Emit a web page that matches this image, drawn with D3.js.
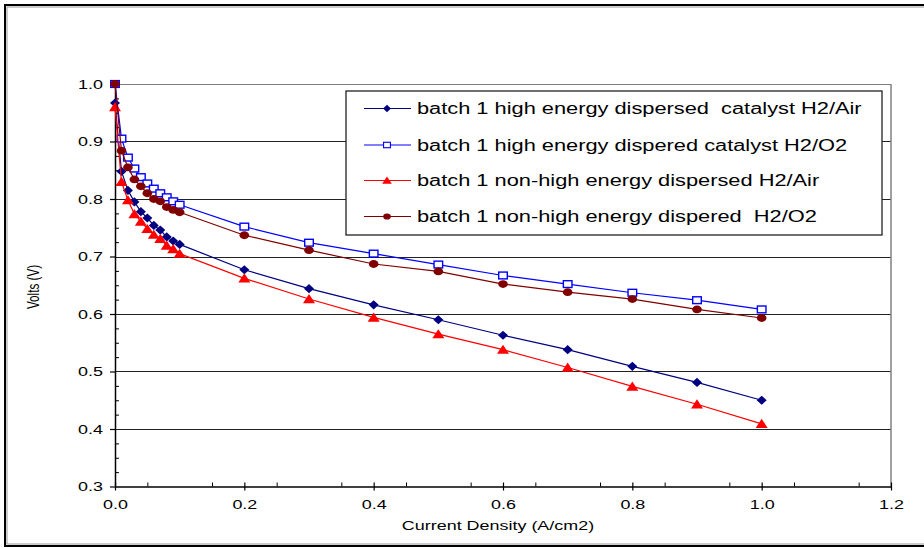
<!DOCTYPE html>
<html>
<head>
<meta charset="utf-8">
<script src="https://cdn.jsdelivr.net/npm/d3@7"></script>
<style>
  body { margin: 0; background: #fff; }
  text { font-family: "Liberation Sans", Arial, sans-serif; fill: #000; white-space: pre; }
</style>
</head>
<body>
<script>
// Data // ---------------------------------------------------------------------
var current = [0, 0.01, 0.02, 0.03, 0.04, 0.05, 0.06, 0.07, 0.08, 0.09, 0.1,
               0.2, 0.3, 0.4, 0.5, 0.6, 0.7, 0.8, 0.9, 1.0];
var heAir  = [0.967, 0.848, 0.815, 0.795, 0.778, 0.767, 0.754, 0.746, 0.734, 0.727, 0.721,
              0.677, 0.644, 0.616, 0.590, 0.563, 0.538, 0.509, 0.481, 0.450];
var heO2   = [1.0, 0.905, 0.872, 0.853, 0.838, 0.827, 0.818, 0.810, 0.803, 0.796, 0.790,
              0.752, 0.724, 0.705, 0.686, 0.667, 0.652, 0.637, 0.624, 0.608];
var nheAir = [0.960, 0.830, 0.798, 0.774, 0.761, 0.748, 0.738, 0.731, 0.719, 0.713, 0.705,
              0.662, 0.626, 0.594, 0.565, 0.538, 0.507, 0.474, 0.443, 0.409];
var nheO2  = [1.0, 0.884, 0.855, 0.834, 0.822, 0.810, 0.800, 0.796, 0.786, 0.781, 0.777,
              0.737, 0.711, 0.687, 0.674, 0.652, 0.638, 0.626, 0.608, 0.593];

var seriesNames = ["batch 1 high energy dispersed  catalyst H2/Air",
                   "batch 1 high energy dispered catalyst H2/O2",
                   "batch 1 non-high energy dispersed H2/Air",
                   "batch 1 non-high energy dispered  H2/O2"];
var xTicks = [0, 0.2, 0.4, 0.6, 0.8, 1.0, 1.2];
var yTicks = [0.3, 0.4, 0.5, 0.6, 0.7, 0.8, 0.9, 1.0];

// the original picture is stretched sideways, so text gets a x-scale too
var sx = 1.38;

// series table built from the arrays above
var series = [
  {name: seriesNames[0], values: heAir,  color: "#000080", marker: "diamond"},
  {name: seriesNames[1], values: heO2,   color: "#0000ff", marker: "square"},
  {name: seriesNames[2], values: nheAir, color: "#ff0000", marker: "triangle"},
  {name: seriesNames[3], values: nheO2,  color: "#800000", marker: "circle"}
];

// Scales // -------------------------------------------------------------------
var x = d3.scaleLinear().domain([0, 1.2]).range([115, 891]),
    y = d3.scaleLinear().domain([0.3, 1.0]).range([486.5, 84]);

var svg = d3.select("body").append("svg")
            .attr("width", 924)
            .attr("height", 548);

// outer frame (black line with grey shadow inside)
svg.append("rect")
   .attr("x", 5).attr("y", 5).attr("width", 940).attr("height", 541)
   .attr("fill", "none").attr("stroke", "#000").attr("stroke-width", 2);
svg.append("rect")
   .attr("x", 7).attr("y", 7).attr("width", 940).attr("height", 537)
   .attr("fill", "none").attr("stroke", "#999").attr("stroke-width", 1);

// gridlines
svg.append("g").selectAll("line")
   .data(yTicks.slice(1))
   .enter().append("line")
   .attr("x1", x(0)).attr("x2", x(1.2))
   .attr("y1", function(d){ return Math.round(y(d)) + 0.5; })
   .attr("y2", function(d){ return Math.round(y(d)) + 0.5; })
   .attr("stroke", function(d){ return d === 1.0 ? "#808080" : "#222"; })
   .attr("stroke-width", 1);

// plot area border right side
svg.append("line")
   .attr("x1", x(1.2)).attr("x2", x(1.2))
   .attr("y1", y(1.0)).attr("y2", y(0.3))
   .attr("stroke", "#808080").attr("stroke-width", 1.5);

// Axes // ---------------------------------------------------------------------
var xMinor = d3.range(0.05, 1.2, 0.1);
var yMinor = d3.range(0.325, 1.0, 0.025).filter(function(d){
  return Math.abs(Math.round(d * 10) - d * 10) > 0.01;
});

// minor ticks (inside)
svg.append("g")
   .attr("transform", "translate(0," + y(0.3) + ")")
   .call(d3.axisBottom(x).tickValues(xMinor).tickSize(-4).tickFormat(""))
   .call(function(g){ g.select(".domain").remove(); });
svg.append("g")
   .attr("transform", "translate(" + x(0) + ",0)")
   .call(d3.axisLeft(y).tickValues(yMinor).tickSize(-4).tickFormat(""))
   .call(function(g){ g.select(".domain").remove(); });

// x axis
var xAxis = svg.append("g")
   .attr("transform", "translate(0," + y(0.3) + ")")
   .call(d3.axisBottom(x).tickValues(xTicks).tickSizeOuter(0).tickFormat(d3.format(".1f")));
xAxis.select(".domain").attr("stroke-width", 1.5);
xAxis.selectAll(".tick line").attr("y1", -4).attr("y2", 4).attr("stroke-width", 1.2);
xAxis.selectAll(".tick text")
     .attr("font-size", 13)
     .attr("y", 0).attr("dy", null)
     .attr("transform", "translate(0,22.5) scale(" + sx + ",1)");

// y axis
var yAxis = svg.append("g")
   .attr("transform", "translate(" + x(0) + ",0)")
   .call(d3.axisLeft(y).tickValues(yTicks).tickSizeOuter(0).tickSizeInner(5).tickFormat(d3.format(".1f")));
yAxis.select(".domain").attr("stroke-width", 1.5);
yAxis.selectAll(".tick line").attr("stroke-width", 1.2);
yAxis.selectAll(".tick text")
     .attr("font-size", 13)
     .attr("x", 0).attr("dy", "0.34em")
     .attr("transform", "translate(-12,0) scale(" + sx + ",1)");

// axis titles
svg.append("text")
   .attr("transform", "translate(498,530) scale(" + sx + ",1)")
   .attr("text-anchor", "middle")
   .attr("font-size", 13)
   .text("Current Density (A/cm2)");
svg.append("text")
   .attr("transform", "translate(39,287) scale(" + sx + ",1) rotate(-90)")
   .attr("text-anchor", "middle")
   .attr("font-size", 11.7)
   .text("Volts (V)");

// Markers // ------------------------------------------------------------------
function drawMarker(sel, kind, color) {
  if (kind === "diamond") {
    sel.append("path").attr("d", "M-5,0L0,-4.6L5,0L0,4.6Z").attr("fill", color);
  } else if (kind === "square") {
    sel.append("rect").attr("x", -4.3).attr("y", -3.4).attr("width", 8.6).attr("height", 6.8)
       .attr("fill", "#fff").attr("stroke", color).attr("stroke-width", 1.4);
  } else if (kind === "triangle") {
    sel.append("path").attr("d", "M0,-5L6,4.2L-6,4.2Z").attr("fill", color);
  } else {
    sel.append("ellipse").attr("rx", 4.8).attr("ry", 3.9).attr("fill", color);
  }
}

var valueLine = d3.line()
                  .x(function(d){ return x(d[0]); })
                  .y(function(d){ return y(d[1]); });

series.forEach(function(s) {
  var pts = current.map(function(c, i){ return [c, s.values[i]]; });
  svg.append("path")
     .datum(pts)
     .attr("d", valueLine)
     .attr("fill", "none")
     .attr("stroke", s.color)
     .attr("stroke-width", 1.2);
  svg.append("g").selectAll("g")
     .data(pts)
     .enter().append("g")
     .attr("transform", function(d){ return "translate(" + x(d[0]) + "," + y(d[1]) + ")"; })
     .each(function(){ drawMarker(d3.select(this), s.marker, s.color); });
});

// Legend // -------------------------------------------------------------------
var legend = svg.append("g");
legend.append("rect")
      .attr("x", 346).attr("y", 91).attr("width", 536).attr("height", 144)
      .attr("fill", "#fff").attr("stroke", "#222").attr("stroke-width", 1.3);

var rowY = [108.5, 145, 180.5, 216.5];
series.forEach(function(s, i) {
  var row = legend.append("g").attr("transform", "translate(0," + rowY[i] + ")");
  row.append("line")
     .attr("x1", 364).attr("x2", 411)
     .attr("stroke", s.color).attr("stroke-width", 1.2);
  var m = row.append("g").attr("transform", "translate(387,0) scale(0.8)");
  drawMarker(m, s.marker, s.color);
  row.append("text")
     .attr("transform", "translate(417,0) scale(" + sx + ",1)")
     .attr("dy", "0.36em")
     .attr("font-size", 15.8)
     .text(s.name);
});
</script>
</body>
</html>
